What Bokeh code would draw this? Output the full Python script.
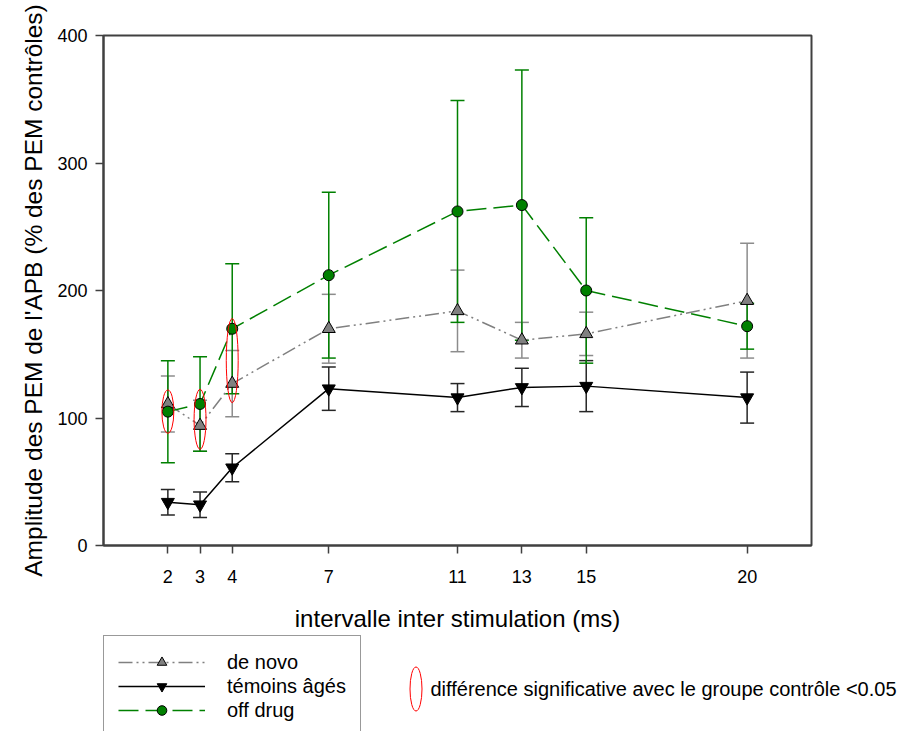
from bokeh.plotting import figure
from bokeh.layouts import column
from bokeh.models import (ColumnDataSource, Whisker, TeeHead, FixedTicker, Legend,
                          LegendItem, Range1d, Label)
from bokeh.embed import file_html
from bokeh.resources import INLINE

# ---- data ----
intervals = [2, 3, 4, 7, 11, 13, 15, 20]
de_novo = [111, 94, 127, 170, 184, 161, 166, 192]
de_novo_err = [22, 20, 26, 27, 32, 14, 17, 45]
temoins = [34, 32, 61, 123, 116, 124, 125, 116]
temoins_err = [10, 10, 11, 17, 11, 15, 20, 20]
off_drug = [105, 111, 170, 212, 262, 267, 200, 172]
off_drug_err = [40, 37, 51, 65, 87, 106, 57, 18]
sig_x = [2, 3, 4]
sig_y = [105, 99, 145]
sig_h = [34, 47, 66]
x_ticks = [2, 3, 4, 7, 11, 13, 15, 20]
y_ticks = [0, 100, 200, 300, 400]
series_labels = ["de novo", "témoins âgés", "off drug"]
sig_label = "différence significative avec le groupe contrôle <0.05"

FONT = "Liberation Sans"
GRAY = "#808080"
GREEN = "#008000"
AXC = "#404040"

p = figure(width=898, height=634, output_backend="svg", toolbar_location=None,
           title=None, x_range=Range1d(0, 22), y_range=Range1d(0, 400),
           min_border_left=103, min_border_right=87, min_border_top=35,
           min_border_bottom=89)
p.frame_align = False
p.grid.visible = False
p.outline_line_color = AXC
p.outline_line_width = 2
p.background_fill_color = "white"
p.border_fill_color = "white"

for ax in (p.xaxis[0], p.yaxis[0]):
    ax.axis_line_color = AXC
    ax.axis_line_width = 2
    ax.major_tick_line_color = AXC
    ax.major_tick_line_width = 1.5
    ax.major_tick_out = 8
    ax.major_tick_in = 0
    ax.minor_tick_line_color = None
    ax.major_label_text_font = FONT
    ax.major_label_text_font_size = "18px"
    ax.major_label_text_color = "black"
    ax.axis_label_text_font = FONT
    ax.axis_label_text_font_size = "24px"
    ax.axis_label_text_font_style = "normal"
    ax.axis_label_text_color = "black"

p.xaxis.ticker = FixedTicker(ticks=x_ticks)
p.yaxis.ticker = FixedTicker(ticks=y_ticks)
p.xaxis.axis_label = "intervalle inter stimulation (ms)"
p.yaxis.axis_label = "Amplitude des PEM de l'APB (% des PEM contrôles)"
p.yaxis.axis_label_text_font_size = "24.5px"
p.xaxis.major_label_standoff = 16
p.yaxis.major_label_standoff = 8
p.xaxis.axis_label_standoff = 19
p.yaxis.axis_label_standoff = 7


def add_err(y, e, color):
    src = ColumnDataSource(dict(x=intervals,
                                upper=[a + b for a, b in zip(y, e)],
                                lower=[a - b for a, b in zip(y, e)]))
    w = Whisker(base="x", upper="upper", lower="lower", source=src,
                line_color=color, line_width=1.5, level="underlay",
                upper_head=TeeHead(size=14, line_color=color, line_width=1.5),
                lower_head=TeeHead(size=14, line_color=color, line_width=1.5))
    p.add_layout(w)


add_err(de_novo, de_novo_err, "#8c8c8c")
add_err(temoins, temoins_err, "#262626")
add_err(off_drug, off_drug_err, GREEN)

STYLES = [
    dict(line=dict(line_color=GRAY, line_width=1.5, line_dash="14 4 2 4 2 4"),
         mark=dict(marker="triangle", size=13, fill_color=GRAY,
                   line_color="black", line_width=1)),
    dict(line=dict(line_color="black", line_width=1.5),
         mark=dict(marker="inverted_triangle", size=13, fill_color="black",
                   line_color="black", line_width=1)),
    dict(line=dict(line_color=GREEN, line_width=1.5, line_dash="20 7"),
         mark=dict(marker="circle", size=11, fill_color=GREEN,
                   line_color="black", line_width=1)),
]
series = [de_novo, temoins, off_drug]

for ys, st in zip(series, STYLES):
    p.line(intervals, ys, **st["line"])
for ys, st in zip(series, STYLES):
    p.scatter(intervals, ys, **st["mark"])

ell_src = ColumnDataSource(dict(x=sig_x, y=sig_y, h=sig_h))
p.ellipse(x="x", y="y", width=0.37, height="h", source=ell_src,
          fill_color=None, line_color="red", line_width=1)

# ---- legend strip below the chart (its own frame; series fall outside its ranges) ----
p2 = figure(width=898, height=97, output_backend="svg", toolbar_location=None,
            title=None, x_range=Range1d(0, 1), y_range=Range1d(0, 1),
            x_axis_location=None, y_axis_location=None,
            min_border_left=102, min_border_right=0, min_border_top=0,
            min_border_bottom=0)
p2.frame_align = False
p2.outline_line_color = None
p2.grid.visible = False
p2.background_fill_color = "white"
p2.border_fill_color = "white"

items = []
for lab, ys, st in zip(series_labels, series, STYLES):
    kl = p2.line(intervals, ys, **st["line"])
    km = p2.scatter(intervals, ys, **st["mark"])
    items.append(LegendItem(label=lab, renderers=[kl, km]))

leg = Legend(items=items, location="top_left", margin=1,
             glyph_width=87, glyph_height=24, spacing=0,
             padding=14, label_standoff=22,
             label_text_font=FONT, label_text_font_size="20px",
             label_text_color="black",
             border_line_color="#333333", border_line_width=1.5,
             background_fill_color="white", background_fill_alpha=1)
p2.add_layout(leg)

key_src = ColumnDataSource(dict(x=sig_x, y=sig_y))
key = p2.ellipse(x="x", y="y", width=12, height=44, width_units="screen",
                 height_units="screen", source=key_src, fill_color=None,
                 line_color="red", line_width=1)
leg2 = Legend(items=[LegendItem(label=" ", renderers=[key], index=0)],
              location=(286, 15), glyph_width=55, glyph_height=55,
              padding=0, margin=0, label_standoff=0,
              label_text_font=FONT, label_text_font_size="20px",
              border_line_color=None, background_fill_alpha=0)
p2.add_layout(leg2)

p2.add_layout(Label(x=328, y=43, x_units="screen", y_units="screen",
                    text=sig_label, text_font=FONT, text_font_size="20px",
                    text_color="black", text_baseline="middle",
                    text_align="left"))

layout = column(p, p2, spacing=0)
open("out.html", "w").write(file_html(layout, INLINE))
